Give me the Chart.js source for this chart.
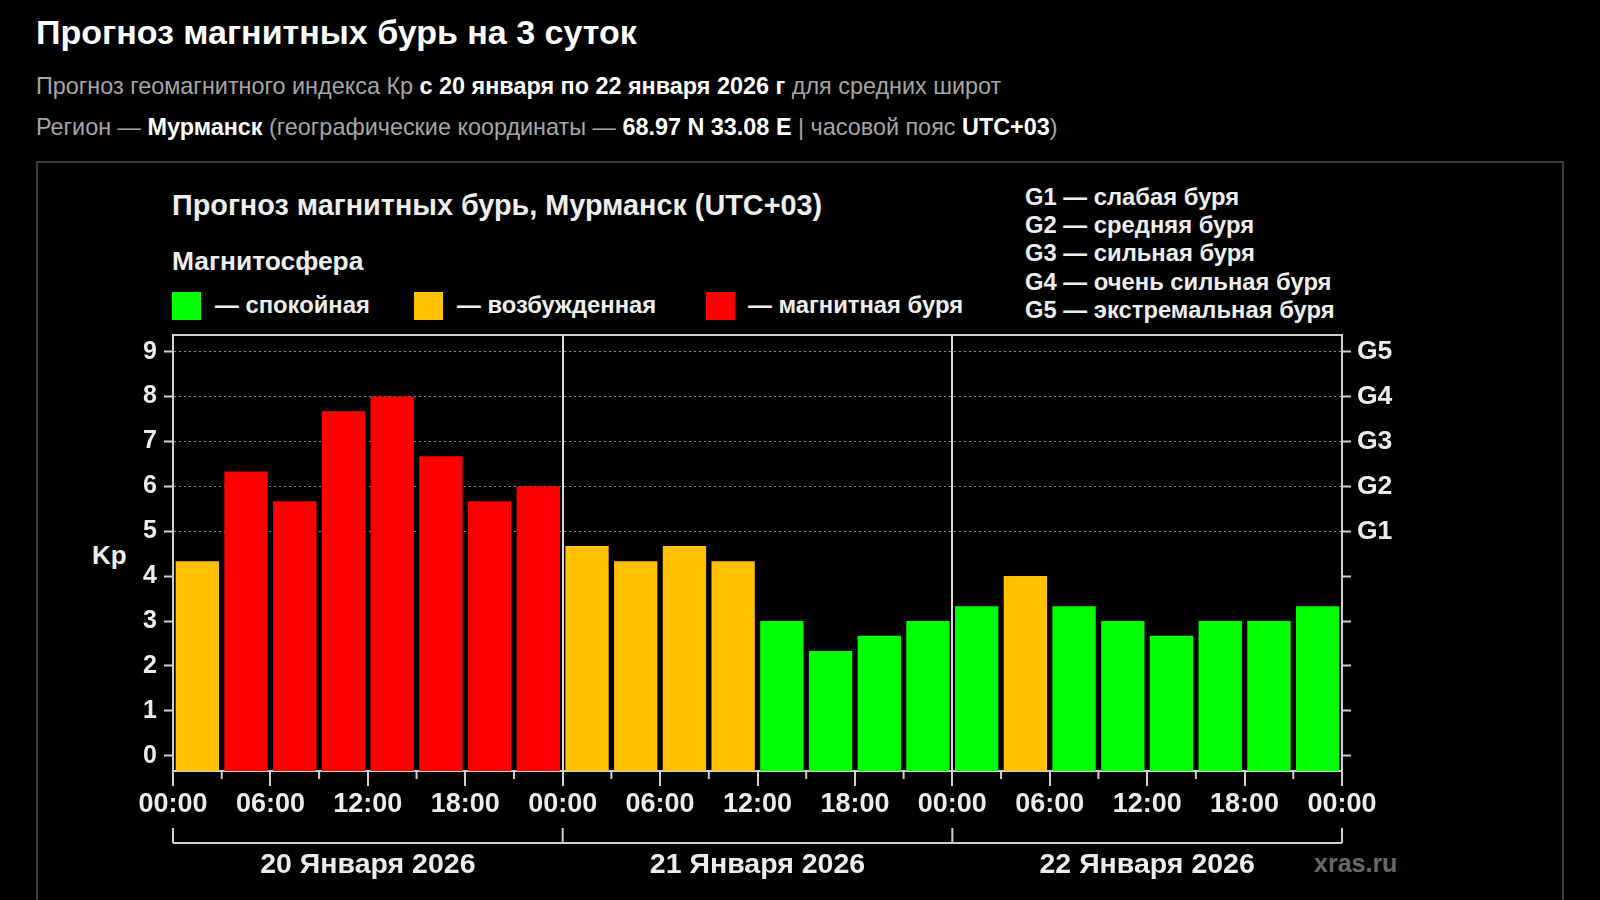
<!DOCTYPE html>
<html lang="ru">
<head>
    <meta charset="UTF-8">
    <title>Прогноз магнитных бурь — Мурманск</title>
    <script src="https://cdn.jsdelivr.net/npm/chart.js@4.4.1/dist/chart.umd.min.js"></script>
    <style>
        body {
            margin: 0;
            width: 1600px;
            height: 900px;
            overflow: hidden;
            position: relative;
            background-color: #000;
            color: #eee;
            font-family: 'Liberation Sans', Arial, sans-serif;
        }

        .t {
            position: absolute;
            white-space: nowrap;
            line-height: 1;
            transform: translateY(-50%);
        }

        .page-title { left: 36px; top: 32px; font-size: 34px; font-weight: bold; color: #fff; }
        .sub { left: 36px; font-size: 23.4px; color: #a6a6a6; }
        .sub b { color: #fff; }

        .box {
            position: absolute;
            left: 36px;
            top: 161px;
            width: 1524px;
            height: 800px;
            border: 2px solid #3c3c3c;
        }

        .chart-title { left: 172px; top: 205px; font-size: 28.8px; font-weight: bold; }
        .magneto { left: 172px; top: 261px; font-size: 26.4px; font-weight: bold; }
        .leg { top: 305px; font-size: 23.8px; font-weight: bold; }
        .sq { position: absolute; top: 292px; width: 29px; height: 28px; }
        .g-item { left: 1025px; font-size: 23.8px; font-weight: bold; }
        .kp { left: 92px; top: 555px; font-size: 26px; font-weight: bold; }
        .src { left: 1314px; top: 863px; font-size: 25px; font-weight: bold; color: #686868; }

        #kpChart { position: absolute; left: 0; top: 0; }
    </style>
</head>
<body>
    <div class="t page-title">Прогноз магнитных бурь на 3 суток</div>
    <div class="t sub" style="top: 87px;">Прогноз геомагнитного индекса Кр <b>с 20 января по 22 января 2026 г</b> для средних широт</div>
    <div class="t sub" style="top: 128px;">Регион — <b>Мурманск</b> (географические координаты — <b>68.97 N 33.08 E</b> | часовой пояс <b>UTC+03</b>)</div>

    <div class="box"></div>

    <div class="t chart-title">Прогноз магнитных бурь, Мурманск (UTC+03)</div>
    <div class="t magneto">Магнитосфера</div>

    <div class="sq" style="left: 172px; background: #00ff00;"></div>
    <div class="t leg" style="left: 215px;">— спокойная</div>
    <div class="sq" style="left: 414px; background: #ffc000;"></div>
    <div class="t leg" style="left: 457px;">— возбужденная</div>
    <div class="sq" style="left: 706px; background: #ff0000;"></div>
    <div class="t leg" style="left: 748px;">— магнитная буря</div>

    <div class="t g-item" style="top: 197px;">G1 — слабая буря</div>
    <div class="t g-item" style="top: 225px;">G2 — средняя буря</div>
    <div class="t g-item" style="top: 253px;">G3 — сильная буря</div>
    <div class="t g-item" style="top: 282px;">G4 — очень сильная буря</div>
    <div class="t g-item" style="top: 310px;">G5 — экстремальная буря</div>

    <div class="t kp">Kp</div>
    <div class="t src">xras.ru</div>

    <canvas id="kpChart" width="1600" height="900"></canvas>

    <script>
        // Kp forecast, 3-hour intervals, 20-22 January 2026
        const kpValues = [
            4.33, 6.33, 5.67, 7.67, 8.0, 6.67, 5.67, 6.0,
            4.67, 4.33, 4.67, 4.33, 3.0, 2.33, 2.67, 3.0,
            3.33, 4.0, 3.33, 3.0, 2.67, 3.0, 3.0, 3.33
        ];
        const timeLabels = ['00:00', '06:00', '12:00', '18:00'];
        const dayLabels = ['20 Января 2026', '21 Января 2026', '22 Января 2026'];
        const kpTicks = [0, 1, 2, 3, 4, 5, 6, 7, 8, 9];
        const gLevels = ['G1', 'G2', 'G3', 'G4', 'G5']; // Kp 5..9

        const Y_MIN = -0.34;
        const Y_MAX = 9.37;
        const AXIS = '#cfcfcf';
        const TEXT = '#ececec';
        const FONT = 'Liberation Sans, Arial, sans-serif';

        function barColor(v) {
            if (v >= 5) return '#ff0000';
            if (v >= 4) return '#ffc000';
            return '#00ff00';
        }

        const points = kpValues.map((v, i) => ({ x: i * 3 + 1.5, y: v }));

        // short ticks between labels + date bracket under the time axis
        const extras = {
            id: 'extras',
            afterDraw(chart) {
                const ctx = chart.ctx;
                const x = chart.scales.x;
                const days = chart.scales.days;
                ctx.save();
                ctx.strokeStyle = AXIS;
                ctx.lineWidth = 2;
                ctx.beginPath();
                for (let h = 3; h < 72; h += 6) {
                    const px = x.getPixelForValue(h);
                    ctx.moveTo(px, x.top);
                    ctx.lineTo(px, x.top + 8);
                }
                const yb = days.top + 12;
                ctx.moveTo(x.getPixelForValue(0), yb);
                ctx.lineTo(x.getPixelForValue(72), yb);
                for (let h = 0; h <= 72; h += 24) {
                    const px = x.getPixelForValue(h);
                    ctx.moveTo(px, yb - 15);
                    ctx.lineTo(px, yb);
                }
                ctx.stroke();
                ctx.restore();
            }
        };

        new Chart(document.getElementById('kpChart'), {
            type: 'bar',
            data: {
                datasets: [{
                    data: points,
                    base: Y_MIN,
                    backgroundColor: kpValues.map(barColor),
                    borderWidth: 0,
                    categoryPercentage: 1,
                    barPercentage: 0.89,
                    yAxisID: 'y'
                }]
            },
            options: {
                responsive: false,
                animation: false,
                layout: { padding: { top: 335, left: 0, right: 0, bottom: 0 } },
                plugins: { legend: { display: false }, tooltip: { enabled: false } },
                scales: {
                    x: {
                        type: 'linear',
                        position: 'bottom',
                        min: 0,
                        max: 72,
                        offset: false,
                        afterFit: s => { s.height = 60; },
                        grid: {
                            offset: false,
                            drawOnChartArea: true,
                            color: c => (c.tick && (c.tick.value === 24 || c.tick.value === 48)) ? '#d8d8d8' : 'rgba(0,0,0,0)',
                            lineWidth: 2,
                            tickColor: AXIS,
                            tickWidth: 2,
                            tickLength: 15
                        },
                        border: { color: AXIS, width: 2 },
                        ticks: {
                            stepSize: 6,
                            autoSkip: false,
                            maxRotation: 0,
                            padding: 2,
                            color: TEXT,
                            font: { family: FONT, size: 27, weight: 'bold' },
                            callback: v => timeLabels[(v % 24) / 6]
                        }
                    },
                    days: {
                        type: 'linear',
                        axis: 'x',
                        position: 'bottom',
                        min: 0,
                        max: 72,
                        offset: false,
                        afterFit: s => { s.height = 69; },
                        afterBuildTicks: s => { s.ticks = dayLabels.map((d, i) => ({ value: i * 24 + 12 })); },
                        grid: { display: false },
                        border: { display: false },
                        ticks: {
                            autoSkip: false,
                            maxRotation: 0,
                            padding: 9,
                            color: TEXT,
                            font: { family: FONT, size: 28.5, weight: 'bold' },
                            callback: (v, i) => dayLabels[i]
                        }
                    },
                    xTop: {
                        type: 'linear',
                        axis: 'x',
                        position: 'top',
                        min: 0,
                        max: 72,
                        afterFit: s => { s.height = 0; },
                        grid: { drawOnChartArea: false, drawTicks: false },
                        border: { color: AXIS, width: 2 },
                        ticks: { display: false }
                    },
                    y: {
                        type: 'linear',
                        position: 'left',
                        min: Y_MIN,
                        max: Y_MAX,
                        afterFit: s => { s.width = 173; },
                        afterBuildTicks: s => { s.ticks = kpTicks.map(v => ({ value: v })); },
                        grid: {
                            color: c => (c.tick && c.tick.value >= 5) ? '#8a8a8a' : 'rgba(0,0,0,0)',
                            lineWidth: 1,
                            tickColor: AXIS,
                            tickWidth: 2,
                            tickLength: 9
                        },
                        border: { color: AXIS, width: 2, dash: [2, 3] },
                        ticks: {
                            padding: 7,
                            color: TEXT,
                            font: { family: FONT, size: 25, weight: 'bold' }
                        }
                    },
                    g: {
                        type: 'linear',
                        position: 'right',
                        min: Y_MIN,
                        max: Y_MAX,
                        afterFit: s => { s.width = 258; },
                        afterBuildTicks: s => { s.ticks = kpTicks.map(v => ({ value: v })); },
                        grid: {
                            drawOnChartArea: false,
                            tickColor: AXIS,
                            tickWidth: 2,
                            tickLength: 9
                        },
                        border: { color: AXIS, width: 2 },
                        ticks: {
                            padding: 6,
                            color: TEXT,
                            font: { family: FONT, size: 26.5, weight: 'bold' },
                            callback: v => v >= 5 ? gLevels[v - 5] : ''
                        }
                    }
                }
            },
            plugins: [extras]
        });
    </script>
</body>
</html>
